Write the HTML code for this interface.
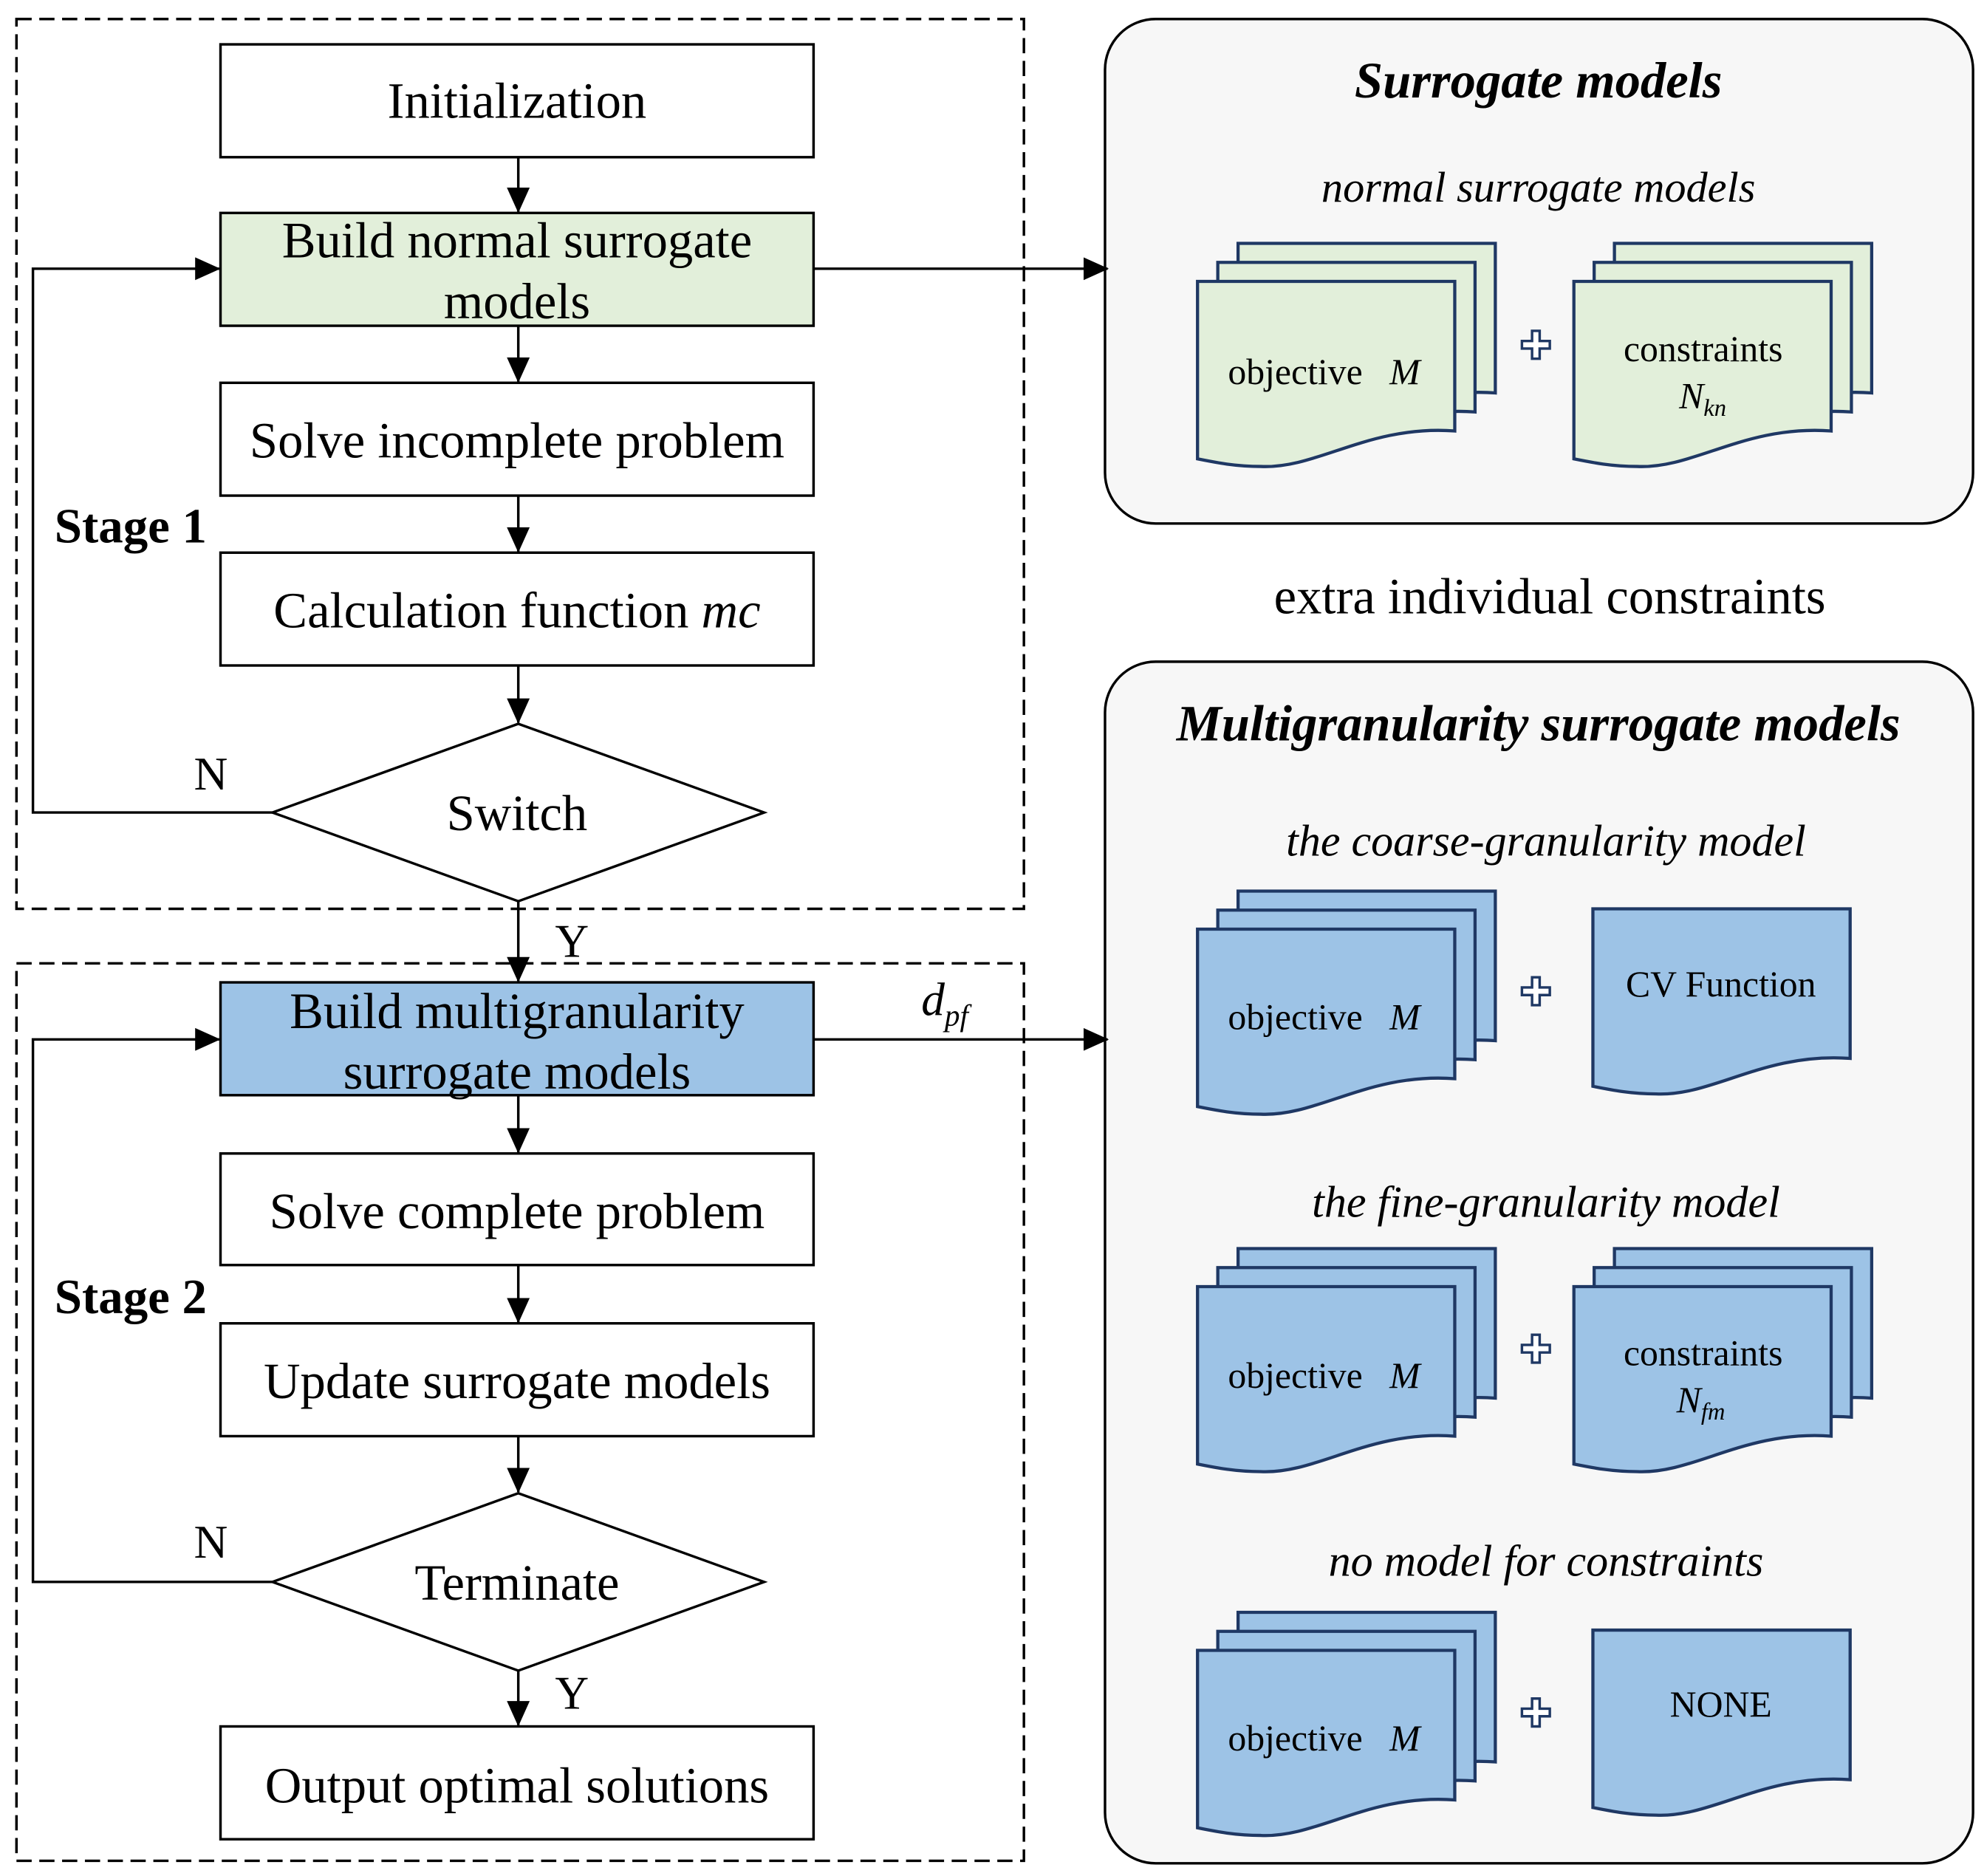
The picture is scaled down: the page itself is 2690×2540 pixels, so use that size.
<!DOCTYPE html>
<html><head><meta charset="utf-8"><style>
html,body{margin:0;padding:0;background:#fff;}
svg{display:block;}
text{font-family:"Liberation Serif",serif;fill:#000;}
</style></head><body>
<svg width="2690" height="2540" viewBox="0 0 1568 1480" preserveAspectRatio="none" xmlns="http://www.w3.org/2000/svg">
<defs>
<marker id="ar" markerWidth="20" markerHeight="18" refX="19" refY="9" orient="auto" markerUnits="userSpaceOnUse">
<path d="M0,0 L20,9 L0,18 Z" fill="#000"/></marker>
<path id="doc" d="M0,0 H203 V118 C135,113 95,148 50,146 C30,146 15,143 0,140 Z" stroke="#1f3864" stroke-width="2.5"/>
<path id="plus" d="M-3,-11 H3 V-3 H11 V3 H3 V11 H-3 V3 H-11 V-3 H-3 Z" fill="#fff" stroke="#1f3864" stroke-width="2"/>
</defs>
<rect width="1568" height="1480" fill="#fff"/>
<rect x="13" y="15" width="795" height="702" fill="none" stroke="#000" stroke-width="2" stroke-dasharray="12,6"/>
<rect x="13" y="760" width="795" height="708" fill="none" stroke="#000" stroke-width="2" stroke-dasharray="12,6"/>
<rect x="872" y="15" width="685" height="398" rx="40" fill="#f7f7f7" stroke="#000" stroke-width="2"/>
<rect x="872" y="522" width="685" height="948" rx="40" fill="#f7f7f7" stroke="#000" stroke-width="2"/>
<g stroke="#000" stroke-width="2">
<rect x="174" y="35" width="468" height="89" fill="#fff"/>
<rect x="174" y="168" width="468" height="89" fill="#e2efda"/>
<rect x="174" y="302" width="468" height="89" fill="#fff"/>
<rect x="174" y="436" width="468" height="89" fill="#fff"/>
<path d="M409,571 L603,641 L409,711 L215,641 Z" fill="#fff"/>
<rect x="174" y="775" width="468" height="89" fill="#9dc3e6"/>
<rect x="174" y="910" width="468" height="88" fill="#fff"/>
<rect x="174" y="1044" width="468" height="89" fill="#fff"/>
<path d="M409,1178 L603,1248 L409,1318 L215,1248 Z" fill="#fff"/>
<rect x="174" y="1362" width="468" height="89" fill="#fff"/>
</g>
<g stroke="#000" stroke-width="2" fill="none" marker-end="url(#ar)">
<line x1="409" y1="124" x2="409" y2="167"/>
<line x1="409" y1="257" x2="409" y2="301"/>
<line x1="409" y1="391" x2="409" y2="435"/>
<line x1="409" y1="525" x2="409" y2="570"/>
<line x1="409" y1="711" x2="409" y2="774"/>
<line x1="409" y1="864" x2="409" y2="909"/>
<line x1="409" y1="998" x2="409" y2="1043"/>
<line x1="409" y1="1133" x2="409" y2="1177"/>
<line x1="409" y1="1318" x2="409" y2="1361"/>
<polyline points="215,641 26,641 26,212 173,212"/>
<polyline points="215,1248 26,1248 26,820 173,820"/>
<line x1="642" y1="212" x2="874" y2="212"/>
<line x1="642" y1="820" x2="874" y2="820"/>
</g>
<g font-size="40" text-anchor="middle">
<text x="408" y="93">Initialization</text>
<text x="408" y="203">Build normal surrogate</text>
<text x="408" y="251">models</text>
<text x="408" y="361">Solve incomplete problem</text>
<text x="408" y="495">Calculation function <tspan font-style="italic">mc</tspan></text>
<text x="408" y="655">Switch</text>
<text x="408" y="811">Build multigranularity</text>
<text x="408" y="859">surrogate models</text>
<text x="408" y="969">Solve complete  problem</text>
<text x="408" y="1103">Update surrogate models</text>
<text x="408" y="1262">Terminate</text>
<text x="408" y="1422">Output optimal solutions</text>
</g>
<g font-size="39" font-weight="bold">
<text x="43" y="428">Stage 1</text>
<text x="43" y="1036">Stage 2</text>
</g>
<g font-size="37">
<text x="153" y="623">N</text>
<text x="153" y="1229">N</text>
<text x="438" y="755">Y</text>
<text x="438" y="1348">Y</text>
</g>
<text x="727" y="801" font-size="37" font-style="italic">d<tspan font-size="24" dy="8">pf</tspan></text>
<text x="1223" y="484" font-size="40" text-anchor="middle">extra individual constraints</text>
<text x="1214" y="77" font-size="40" font-weight="bold" font-style="italic" text-anchor="middle">Surrogate models</text>
<text x="1214" y="159" font-size="34" font-style="italic" text-anchor="middle">normal surrogate  models</text>
<text x="1214" y="584" font-size="40" font-weight="bold" font-style="italic" text-anchor="middle">Multigranularity surrogate models</text>
<text x="1220" y="675" font-size="35" font-style="italic" text-anchor="middle">the coarse-granularity model</text>
<text x="1220" y="960" font-size="35" font-style="italic" text-anchor="middle">the fine-granularity model</text>
<text x="1220" y="1243" font-size="35" font-style="italic" text-anchor="middle">no model for constraints</text>
<g fill="#e2efda">
<use href="#doc" x="977" y="192"/><use href="#doc" x="961" y="207"/><use href="#doc" x="945" y="222"/>
<use href="#doc" x="1274" y="192"/><use href="#doc" x="1258" y="207"/><use href="#doc" x="1242" y="222"/>
</g>
<g fill="#9dc3e6">
<use href="#doc" x="977" y="703"/><use href="#doc" x="961" y="718"/><use href="#doc" x="945" y="733"/>
<use href="#doc" x="1257" y="717"/>
<use href="#doc" x="977" y="985"/><use href="#doc" x="961" y="1000"/><use href="#doc" x="945" y="1015"/>
<use href="#doc" x="1274" y="985"/><use href="#doc" x="1258" y="1000"/><use href="#doc" x="1242" y="1015"/>
<use href="#doc" x="977" y="1272"/><use href="#doc" x="961" y="1287"/><use href="#doc" x="945" y="1302"/>
<use href="#doc" x="1257" y="1286"/>
</g>
<use href="#plus" x="1212" y="272"/>
<use href="#plus" x="1212" y="782"/>
<use href="#plus" x="1212" y="1064"/>
<use href="#plus" x="1212" y="1351"/>
<g font-size="29">
<text x="969" y="303">objective <tspan font-style="italic" dx="14">M</tspan></text>
<text x="969" y="812">objective <tspan font-style="italic" dx="14">M</tspan></text>
<text x="969" y="1095">objective <tspan font-style="italic" dx="14">M</tspan></text>
<text x="969" y="1381">objective <tspan font-style="italic" dx="14">M</tspan></text>
<text x="1344" y="285" text-anchor="middle">constraints</text>
<text x="1325" y="322" font-style="italic">N<tspan font-size="19" dy="6">kn</tspan></text>
<text x="1344" y="1077" text-anchor="middle">constraints</text>
<text x="1323" y="1114" font-style="italic">N<tspan font-size="19" dy="6">fm</tspan></text>
<text x="1358" y="786" text-anchor="middle">CV Function</text>
<text x="1358" y="1354" text-anchor="middle">NONE</text>
</g>
</svg>
</body></html>
